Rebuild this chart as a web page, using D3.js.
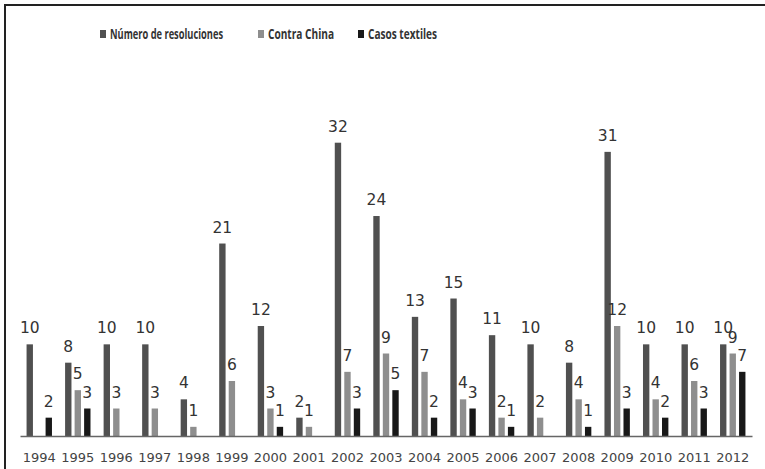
<!DOCTYPE html>
<html>
<head>
<meta charset="utf-8">
<script src="https://cdn.jsdelivr.net/npm/d3@7"></script>
<style>
  body { margin: 0; background: #fff; }
</style>
</head>
<body>
<div id="chart" style="width:765px;height:469px;"></div>
<script>
var years = ["1994","1995","1996","1997","1998","1999","2000","2001","2002","2003",
             "2004","2005","2006","2007","2008","2009","2010","2011","2012"];
var seriesNames = ["Número de resoluciones", "Contra China", "Casos textiles"];
// null = no bar in that year
var resoluciones = [10, 8, 10, 10, 4, 21, 12, 2, 32, 24, 13, 15, 11, 10, 8, 31, 10, 10, 10];
var contraChina  = [null, 5, 3, 3, 1, 6, 3, 1, 7, 9, 7, 4, 2, 2, 4, 12, 4, 6, 9];
var textiles     = [2, 3, null, null, null, null, 1, null, 3, 5, 2, 3, 1, null, 1, 3, 2, 3, 7];
var colors = ["#505050", "#8e8e8e", "#181818"];

var width = 765,
    height = 469,
    baseY = 436;

var svg = d3.select('#chart')
    .append('svg')
      .attr('width', width)
      .attr('height', height);

// frame (top + left only)
svg.append('line')
    .attr('x1', 4).attr('y1', 5).attr('x2', width).attr('y2', 5)
    .style('stroke', '#222').style('stroke-width', 2);
svg.append('line')
    .attr('x1', 5).attr('y1', 4).attr('x2', 5).attr('y2', height)
    .style('stroke', '#222').style('stroke-width', 2);

var xScale = d3.scaleBand()
    .domain(years)
    .range([20, 752])
    .paddingInner(0)
    .paddingOuter(0);

var x1 = d3.scaleBand()
    .domain(d3.range(seriesNames.length))
    .range([-12.7, 12.7])
    .paddingInner(0.33);

var yScale = d3.scaleLinear()
    .domain([0, 32])
    .range([baseY, 142.7]);

var allSeries = [resoluciones, contraChina, textiles];
var points = [];
allSeries.forEach(function(s, k){
    s.forEach(function(v, i){
        if (v != null) points.push({year: years[i], k: k, v: v});
    });
});

var bars = svg.append('g');
bars.selectAll('rect').data(points).enter()
    .append('rect')
      .attr('x', function(d){ return xScale(d.year) + xScale.bandwidth()/2 + x1(d.k); })
      .attr('width', x1.bandwidth())
      .attr('y', function(d){ return yScale(d.v); })
      .attr('height', function(d){ return baseY - yScale(d.v); })
      .style('fill', function(d){ return colors[d.k]; });

// value labels
svg.append('g').selectAll('text').data(points).enter()
    .append('text')
      .text(function(d){ return d.v; })
      .attr('x', function(d){ return xScale(d.year) + xScale.bandwidth()/2 + x1(d.k) + x1.bandwidth()/2; })
      .attr('y', function(d){ return yScale(d.v) - 11; })
      .style('font-family', 'DejaVu Sans, sans-serif')
      .style('font-size', '15.5px')
      .style('fill', '#333')
      .style('text-anchor', 'middle');

// x axis
var xAxis = svg.append('g')
    .attr('transform', 'translate(0,' + baseY + ')')
    .call(d3.axisBottom(xScale).tickSize(0).tickPadding(17));
xAxis.select('.domain').style('stroke', '#666').style('stroke-width', 1.5);
xAxis.selectAll('text')
    .style('font-family', 'DejaVu Sans, sans-serif')
    .style('font-size', '13px')
    .style('fill', '#444');

// legend
var legendX = [100, 258, 358],
    legendW = [113, 66, 69];
var legend = svg.append('g').selectAll('g').data(seriesNames).enter()
    .append('g')
      .attr('transform', function(d, i){ return 'translate(' + legendX[i] + ',0)'; });
legend.append('rect')
    .attr('x', 0).attr('y', 30).attr('width', 6).attr('height', 8)
    .style('fill', function(d, i){ return colors[i]; });
legend.append('text')
    .text(function(d){ return d; })
    .attr('x', 10).attr('y', 39)
    .attr('textLength', function(d, i){ return legendW[i]; })
    .attr('lengthAdjust', 'spacingAndGlyphs')
    .style('font-family', 'Open Sans, sans-serif')
    .style('font-weight', 'bold')
    .style('font-size', '13.5px')
    .style('fill', '#333');
</script>
</body>
</html>
